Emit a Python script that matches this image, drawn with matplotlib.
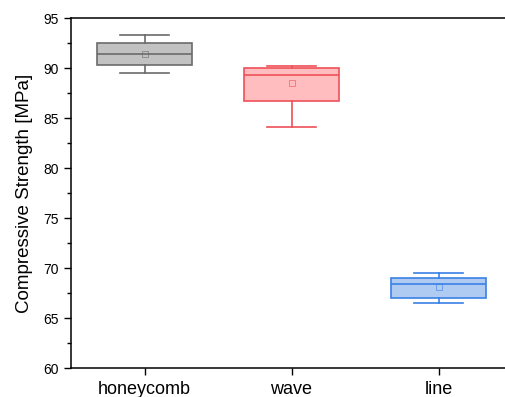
import matplotlib
matplotlib.use("Agg")
import matplotlib.pyplot as plt
from matplotlib.ticker import MultipleLocator

plt.rcParams['font.family'] = ['Liberation Sans', 'DejaVu Sans']

categories = ["honeycomb", "wave", "line"]
whislo = [89.5, 84.1, 66.5]
q1 = [90.3, 86.7, 67.0]
med = [91.4, 89.35, 68.45]
mean = [91.4, 88.55, 68.1]
q3 = [92.5, 90.0, 69.0]
whishi = [93.3, 90.2, 69.5]

fills = ["#c2c2c2", "#ffbdbf", "#afcbf2"]
edges = ["#6b6b6b", "#ee5257", "#3a80e6"]

fig = plt.figure(figsize=(5.05, 3.97), dpi=100)
ax = fig.add_axes([71/505, 29/397, (512-71)/505, 350/397])

stats = []
for i, c in enumerate(categories):
    stats.append(dict(label=c, whislo=whislo[i], q1=q1[i], med=med[i],
                      mean=mean[i], q3=q3[i], whishi=whishi[i], fliers=[]))

pos = [1, 2, 3]
for i in range(3):
    ax.bxp([stats[i]], positions=[pos[i]], widths=0.65, capwidths=0.33,
           patch_artist=True, showmeans=True, showfliers=False,
           boxprops=dict(facecolor=fills[i], edgecolor=edges[i], linewidth=1.2),
           medianprops=dict(color=edges[i], linewidth=1.2),
           whiskerprops=dict(color=edges[i], linewidth=1.2),
           capprops=dict(color=edges[i], linewidth=1.2),
           meanprops=dict(marker='s', markersize=4, markerfacecolor='none',
                          markeredgecolor=edges[i], markeredgewidth=0.7, alpha=0.6))

ax.set_xlim(0.5, 3.5)
ax.set_ylim(60, 95)
ax.set_xticks(pos)
ax.set_xticklabels(categories, fontsize=13)
ax.yaxis.set_major_locator(MultipleLocator(5))
ax.yaxis.set_minor_locator(MultipleLocator(2.5))
ax.tick_params(axis='y', labelsize=10, direction='out', length=5, width=1)
ax.tick_params(axis='y', which='minor', length=3, width=1)
ax.tick_params(axis='x', direction='out', length=5, width=1, pad=4)
ax.set_ylabel("Compressive Strength [MPa]", fontsize=13.5, labelpad=8)
for s in ax.spines.values():
    s.set_linewidth(1.1)

fig.savefig("out.png", dpi=100)
